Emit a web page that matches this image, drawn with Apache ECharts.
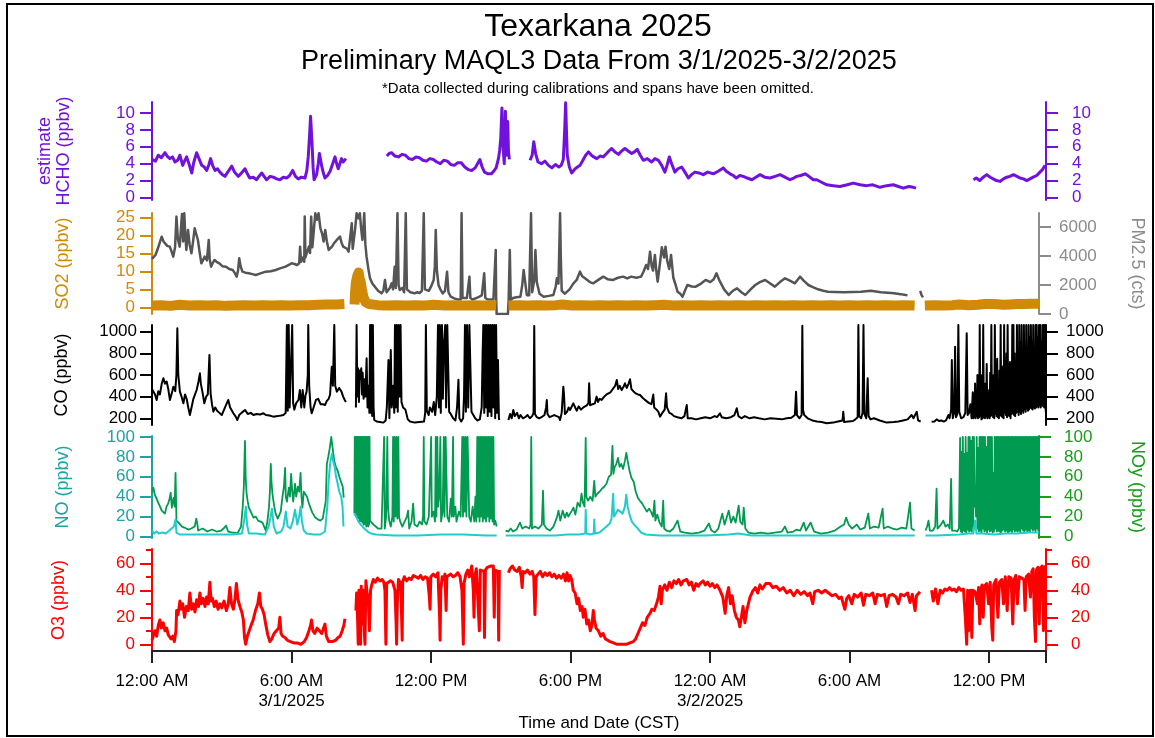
<!DOCTYPE html>
<html><head><meta charset="utf-8">
<script src="https://cdn.jsdelivr.net/npm/echarts@6/dist/echarts.min.js"></script>
<style>html,body{margin:0;padding:0;background:#fff}#c{width:1155px;height:738px}</style>
</head><body><div id="c"></div>
<script>
// ---------- tick labels ----------
const xTickHours = [0, 6, 12, 18, 24, 30, 36];
const xTickLabels = ['12:00 AM', '6:00 AM\n3/1/2025', '12:00 PM', '6:00 PM', '12:00 AM\n3/2/2025', '6:00 AM', '12:00 PM'];
const hchoTicks = [0, 2, 4, 6, 8, 10];
const so2Ticks = [0, 5, 10, 15, 20, 25];
const pmTicks = [0, 2000, 4000, 6000];
const coTicks = [200, 400, 600, 800, 1000];
const noTicks = [0, 20, 40, 60, 80, 100];
const o3Ticks = [0, 20, 40, 60];
const o3MinorTicks = [10, 30, 50, 70];

// ---------- data: [hours since 3/1/2025 00:00 CST, value] ----------
const hcho = [[0.0,4.5],[0.06,4.6],[0.15,4.3],[0.27,5.0],[0.4,4.7],[0.56,5.3],[0.65,4.9],[0.77,4.6],[0.88,4.8],[0.99,4.2],[1.1,4.4],[1.2,5.0],[1.32,3.8],[1.4,4.3],[1.49,4.8],[1.6,3.9],[1.71,2.9],[1.8,4.2],[1.92,5.3],[2.02,4.6],[2.14,3.8],[2.25,3.6],[2.35,3.2],[2.45,3.9],[2.52,4.6],[2.62,3.7],[2.71,3.2],[2.82,3.4],[2.92,3.0],[3.03,2.7],[3.14,2.5],[3.28,3.1],[3.43,3.7],[3.55,3.0],[3.71,2.5],[3.85,2.9],[4.0,3.4],[4.1,2.8],[4.2,2.3],[4.35,2.4],[4.5,2.1],[4.6,2.5],[4.72,2.9],[4.82,2.5],[4.93,2.1],[5.08,2.5],[5.22,2.4],[5.36,2.2],[5.5,2.1],[5.65,2.4],[5.79,2.3],[5.92,2.6],[6.05,3.2],[6.17,2.5],[6.29,2.2],[6.43,2.4],[6.58,2.3],[6.66,3.2],[6.72,4.8],[6.78,7.5],[6.82,9.6],[6.86,7.6],[6.89,6.0],[6.93,3.5],[6.97,2.1],[7.08,2.7],[7.15,4.0],[7.2,5.2],[7.26,4.3],[7.3,3.7],[7.38,2.8],[7.44,2.3],[7.55,2.6],[7.66,3.1],[7.76,3.9],[7.87,4.8],[7.95,3.9],[8.01,3.4],[8.08,4.0],[8.15,4.6],[8.22,4.2],[8.29,4.4],[8.34,4.6],
[8.6,null],
[10.1,4.9],[10.2,5.2],[10.3,5.3],[10.45,4.9],[10.6,4.8],[10.75,5.1],[10.9,5.0],[11.05,4.6],[11.2,4.5],[11.35,4.8],[11.5,4.7],[11.65,4.4],[11.8,4.3],[11.95,4.6],[12.1,4.5],[12.25,4.2],[12.4,4.0],[12.55,4.4],[12.7,4.3],[12.85,3.9],[13.0,3.8],[13.15,4.1],[13.3,4.1],[13.45,3.6],[13.6,3.3],[13.75,3.2],[13.9,3.5],[14.0,4.0],[14.1,4.5],[14.2,3.6],[14.3,3.0],[14.45,2.8],[14.6,2.8],[14.72,3.2],[14.8,3.5],[14.9,4.6],[14.95,5.5],[15.0,7.0],[15.05,10.6],[15.08,8.0],[15.1,6.0],[15.15,4.0],[15.18,6.5],[15.2,10.2],[15.23,7.0],[15.25,5.0],[15.3,9.0],[15.33,5.5],[15.37,4.5],
[15.8,null],
[16.26,4.4],[16.35,5.0],[16.42,6.6],[16.5,5.2],[16.6,4.2],[16.75,4.0],[16.9,4.3],[17.05,3.8],[17.2,3.5],[17.35,3.9],[17.5,3.6],[17.6,3.8],[17.69,4.5],[17.75,8.0],[17.79,11.2],[17.83,7.5],[17.86,5.0],[17.95,3.6],[18.05,2.9],[18.2,3.4],[18.3,3.6],[18.41,3.8],[18.55,4.5],[18.65,5.0],[18.77,5.4],[18.9,5.0],[19.0,4.8],[19.13,4.6],[19.27,4.9],[19.41,4.8],[19.55,5.2],[19.65,5.5],[19.77,5.8],[19.9,5.4],[20.06,5.1],[20.2,5.5],[20.34,5.8],[20.48,5.5],[20.63,5.2],[20.75,5.4],[20.87,5.7],[21.0,5.0],[21.13,4.4],[21.3,4.6],[21.49,4.2],[21.63,4.6],[21.78,4.4],[21.92,3.8],[22.06,3.0],[22.15,3.8],[22.25,4.8],[22.35,4.0],[22.49,3.0],[22.62,3.4],[22.78,3.6],[22.92,3.0],[23.07,2.3],[23.2,2.7],[23.35,3.0],[23.52,2.9],[23.71,2.7],[23.9,3.0],[24.14,2.8],[24.35,3.1],[24.57,3.5],[24.7,3.1],[24.86,2.8],[25.0,2.6],[25.13,2.3],[25.28,2.6],[25.43,2.5],[25.6,2.3],[25.8,2.1],[25.97,2.4],[26.15,2.7],[26.35,2.4],[26.58,2.3],[26.8,2.5],[27.01,2.7],[27.22,2.4],[27.44,2.1],[27.6,2.3],[27.73,2.5],[27.9,2.6],[28.09,2.8],[28.25,2.5],[28.44,2.1],[28.59,2.1],[28.8,1.8],[29.02,1.5],[29.3,1.4],[29.59,1.3],[29.9,1.5],[30.16,1.7],[30.45,1.5],[30.74,1.4],[31.0,1.5],[31.31,1.2],[31.6,1.4],[31.88,1.5],[32.1,1.3],[32.31,1.1],[32.55,1.3],[32.74,1.2],[32.86,1.1],
[34.0,null],
[35.33,2.1],[35.45,2.3],[35.6,2.0],[35.75,2.4],[35.9,2.7],[36.05,2.4],[36.18,2.2],[36.32,2.0],[36.47,1.9],[36.62,2.2],[36.76,2.4],[36.9,2.5],[37.05,2.7],[37.2,2.5],[37.33,2.3],[37.48,2.2],[37.62,2.0],[37.76,2.2],[37.9,2.4],[38.05,2.6],[38.19,3.0],[38.3,3.3],[38.41,3.8]];

const pm25 = [[0.0,3800],[0.06,3726],[0.15,4071],[0.25,4500],[0.35,5000],[0.42,5334],[0.5,5000],[0.56,4876],[0.66,4700],[0.77,4646],[0.85,4300],[0.92,3956],[1.0,4600],[1.06,6716],[1.12,5200],[1.2,4646],[1.26,6000],[1.3,6900],[1.35,5000],[1.4,6950],[1.44,5500],[1.49,4416],[1.56,5796],[1.63,4800],[1.71,4186],[1.78,5000],[1.85,5910],[1.92,5500],[1.99,5106],[2.07,4200],[2.14,3497],[2.21,3700],[2.28,3956],[2.38,3700],[2.46,5106],[2.5,3800],[2.56,3266],[2.63,3500],[2.71,3726],[2.8,3600],[2.92,3497],[3.05,3300],[3.21,3266],[3.35,3100],[3.5,3036],[3.6,2800],[3.67,2576],[3.73,3000],[3.78,3841],[3.84,3300],[3.92,2921],[4.05,2850],[4.2,2806],[4.35,2750],[4.5,2691],[4.7,2800],[4.93,2921],[5.15,2950],[5.36,3036],[5.55,3150],[5.79,3266],[5.95,3400],[6.05,3497],[6.18,3450],[6.29,3381],[6.38,3500],[6.42,4646],[6.46,3600],[6.52,3600],[6.58,3956],[6.6,3600],[6.62,6716],[6.65,3900],[6.72,4000],[6.8,4646],[6.85,4200],[6.9,6716],[6.95,4600],[7.02,4600],[7.08,6950],[7.15,6500],[7.22,6950],[7.3,5900],[7.37,5566],[7.44,5000],[7.51,5796],[7.58,5000],[7.66,4416],[7.73,4500],[7.8,4646],[7.9,4900],[8.01,5106],[8.09,5221],[8.15,5336],[8.22,4900],[8.29,4646],[8.37,4761],[8.45,4500],[8.52,4300],[8.59,4186],[8.66,6256],[8.7,4500],[8.73,4416],[8.8,5800],[8.87,6950],[8.94,6600],[9.01,6950],[9.06,6000],[9.12,5106],[9.16,5800],[9.2,6950],[9.25,4800],[9.3,3956],[9.38,3100],[9.45,2461],[9.55,2100],[9.66,1886],[9.8,1600],[9.95,1426],[10.03,1600],[10.1,2346],[10.17,1500],[10.24,1426],[10.31,1800],[10.39,2116],[10.45,1700],[10.52,3266],[10.57,1800],[10.64,6950],[10.69,2000],[10.74,1656],[10.85,1800],[10.93,1500],[11.0,6950],[11.05,1700],[11.1,1600],[11.2,1500],[11.38,1426],[11.5,1500],[11.6,1450],[11.7,1600],[11.78,6950],[11.83,1700],[11.9,1650],[12.0,1600],[12.1,1900],[12.21,2346],[12.26,3266],[12.3,5796],[12.35,3000],[12.42,2000],[12.5,1700],[12.6,1426],[12.7,1600],[12.79,2921],[12.85,1500],[12.95,1200],[13.1,1081],[13.25,1000],[13.38,1000],[13.42,6950],[13.46,1100],[13.53,966],[13.65,1100],[13.76,2576],[13.8,1100],[13.9,1000],[14.05,1100],[14.2,1200],[14.3,1300],[14.4,2806],[14.45,1100],[14.55,1000],[14.68,1000],[14.8,1000],[14.88,966],[14.9,4416],[14.92,1000],[14.94,0],[15.43,0],[15.46,1000],[15.51,4416],[15.55,966],[15.65,1100],[15.8,1150],[15.97,1196],[16.05,2000],[16.11,3036],[16.17,2900],[16.25,1300],[16.35,1300],[16.43,6950],[16.48,1500],[16.57,2346],[16.62,4416],[16.68,2200],[16.8,1400],[16.98,1196],[17.2,1250],[17.4,1311],[17.5,1900],[17.55,2461],[17.62,2100],[17.69,6950],[17.72,4000],[17.76,1600],[17.8,1500],[17.9,1400],[17.98,1311],[18.1,1700],[18.27,2116],[18.41,2346],[18.55,2921],[18.65,2600],[18.77,2461],[18.84,2461],[18.98,2200],[19.13,2116],[19.3,2300],[19.56,2576],[19.75,2400],[19.99,2346],[20.2,2500],[20.42,2576],[20.6,2450],[20.77,2576],[21.0,2500],[21.2,2576],[21.3,2900],[21.42,3381],[21.5,3100],[21.59,4301],[21.66,3300],[21.72,3000],[21.8,4071],[21.86,3000],[21.92,2231],[22.02,3500],[22.1,4600],[22.14,4646],[22.2,3900],[22.26,4646],[22.33,3700],[22.42,3100],[22.5,4071],[22.6,2500],[22.7,2000],[22.78,1541],[22.9,1400],[23.0,1196],[23.1,1600],[23.21,2000],[23.4,1900],[23.57,1886],[23.8,2100],[24.0,2346],[24.2,2200],[24.35,2400],[24.47,2806],[24.6,2300],[24.8,1700],[25.0,1311],[25.18,1600],[25.36,1771],[25.55,1500],[25.72,1311],[25.95,1700],[26.15,2000],[26.35,2200],[26.58,2346],[26.8,2100],[27.0,1886],[27.22,2200],[27.44,2461],[27.65,2300],[27.87,2116],[28.09,2576],[28.25,2300],[28.45,2000],[28.65,1850],[28.87,1702],[29.1,1600],[29.3,1541],[29.6,1520],[30.0,1495],[30.35,1520],[30.74,1541],[31.16,1610],[31.6,1495],[31.9,1460],[32.17,1426],[32.45,1370],[32.67,1311],[32.75,1300],
[33.0,null],
[33.3,1600],[33.36,1300],[33.42,1150]];

const so2 = [[0,0.5],[0.4,0.6],[0.8,0.4],[1.2,0.7],[1.6,0.5],[2.0,0.6],[2.4,0.5],[2.8,0.6],[3.2,0.4],[3.6,0.5],[4.0,0.6],[4.4,0.5],[4.8,0.6],[5.2,0.5],[5.6,0.6],[6.0,0.5],[6.4,0.6],[6.8,0.6],[7.2,0.7],[7.6,0.8],[8.0,0.8],[8.34,0.9],
[8.5,null],
[8.78,0.8],[8.8,4.0],[8.84,7.0],[8.9,8.8],[8.96,9.7],[9.0,8.0],[9.05,7.0],[9.1,5.0],[9.16,3.0],[9.25,1.5],[9.4,0.9],[9.8,0.6],[10.2,0.5],[10.6,0.6],[11.0,0.5],[11.4,0.6],[11.8,0.5],[12.2,0.7],[12.7,0.5],[13.1,0.6],[13.5,0.5],[13.9,0.6],[14.3,0.5],[14.7,0.6],[14.92,0.5],
[15.2,null],
[15.45,0.5],[15.9,0.6],[16.3,0.5],[16.7,0.6],[17.1,0.5],[17.5,0.6],[17.8,0.8],[18.2,0.5],[18.6,0.6],[19.0,0.5],[19.4,0.6],[19.8,0.5],[20.2,0.6],[20.6,0.5],[21.0,0.6],[21.4,0.5],[21.8,0.6],[22.2,0.7],[22.6,0.5],[23.0,0.6],[23.4,0.5],[23.8,0.6],[24.2,0.5],[24.6,0.6],[25.0,0.5],[25.4,0.6],[25.8,0.5],[26.2,0.6],[26.6,0.5],[27.0,0.6],[27.4,0.5],[27.8,0.6],[28.2,0.5],[28.6,0.6],[29.0,0.5],[29.4,0.6],[29.8,0.5],[30.2,0.6],[30.6,0.5],[31.0,0.6],[31.4,0.5],[31.8,0.6],[32.2,0.5],[32.6,0.6],[33.06,0.5],
[33.3,null],
[33.5,0.5],[33.9,0.6],[34.3,0.5],[34.7,0.6],[35.0,0.8],[35.4,0.6],[35.8,0.7],[36.1,0.9],[36.5,0.9],[36.9,0.7],[37.2,0.8],[37.5,0.9],[37.8,0.9],[38.1,1.0],[38.45,1.0]];

const co = [[0,470],[0.06,477],[0.13,420],[0.2,369],[0.27,450],[0.34,420],[0.42,520],[0.49,569],[0.56,520],[0.63,540],[0.7,470],[0.77,369],[0.85,430],[0.92,492],[1.0,450],[1.05,600],[1.09,1031],[1.13,600],[1.2,446],[1.27,400],[1.35,338],[1.42,420],[1.49,380],[1.56,300],[1.63,230],[1.7,300],[1.78,380],[1.85,420],[1.92,461],[2.0,540],[2.06,615],[2.1,520],[2.18,430],[2.25,338],[2.33,400],[2.4,420],[2.47,785],[2.52,430],[2.58,330],[2.64,261],[2.72,300],[2.8,270],[2.9,250],[3.0,230],[3.1,280],[3.2,330],[3.28,369],[3.36,300],[3.5,246],[3.6,215],[3.67,184],[3.75,230],[3.85,250],[4.0,277],[4.12,240],[4.25,250],[4.36,230],[4.5,240],[4.65,235],[4.79,246],[4.9,230],[5.05,225],[5.22,215],[5.4,220],[5.55,225],[5.65,230],[5.75,250],[5.8,1060],[5.84,270],[5.88,1060],[5.92,300],[5.98,290],[6.03,1060],[6.07,340],[6.12,280],[6.2,340],[6.3,369],[6.36,461],[6.42,300],[6.48,461],[6.55,300],[6.6,410],[6.65,446],[6.7,600],[6.72,1060],[6.76,500],[6.82,300],[6.87,246],[6.95,300],[7.05,369],[7.15,380],[7.25,330],[7.35,330],[7.44,323],[7.52,360],[7.6,380],[7.66,420],[7.73,676],[7.78,500],[7.84,1060],[7.88,500],[7.95,446],[8.05,480],[8.15,446],[8.22,400],[8.29,369],[8.34,350],
[8.55,null],
[8.77,300],[8.8,1060],[8.83,400],[8.86,661],[8.9,350],[8.93,640],[8.96,560],[9.0,661],[9.03,420],[9.06,620],[9.1,380],[9.14,560],[9.18,400],[9.23,754],[9.27,300],[9.31,500],[9.35,250],[9.38,1060],[9.41,250],[9.44,1060],[9.47,220],[9.5,1060],[9.53,300],[9.56,184],[9.66,170],[9.8,165],[9.95,160],[10.05,180],[10.1,300],[10.17,738],[10.21,200],[10.27,830],[10.31,300],[10.37,500],[10.42,250],[10.45,1060],[10.49,300],[10.53,1060],[10.57,260],[10.61,1060],[10.65,400],[10.69,1060],[10.73,350],[10.8,300],[10.9,280],[11.0,190],[11.1,170],[11.3,160],[11.5,165],[11.7,170],[11.75,250],[11.78,1060],[11.82,270],[11.9,230],[11.95,300],[12.05,260],[12.12,350],[12.18,230],[12.25,400],[12.3,1060],[12.34,300],[12.38,1060],[12.42,250],[12.47,1060],[12.51,380],[12.56,900],[12.61,1060],[12.65,300],[12.7,1060],[12.75,1060],[12.78,260],[12.85,240],[12.95,200],[13.05,180],[13.12,300],[13.18,555],[13.22,200],[13.3,170],[13.38,200],[13.42,400],[13.46,1060],[13.5,260],[13.55,1060],[13.6,300],[13.65,1060],[13.7,1060],[13.74,260],[13.82,230],[13.9,200],[14.0,180],[14.1,190],[14.18,300],[14.22,800],[14.25,1060],[14.29,250],[14.33,1060],[14.37,300],[14.4,1060],[14.44,220],[14.48,1060],[14.52,260],[14.56,1060],[14.6,220],[14.64,1060],[14.68,300],[14.72,1060],[14.76,200],[14.8,1060],[14.84,250],[14.88,738],[14.92,200],[14.94,184],
[15.1,null],
[15.33,184],[15.4,240],[15.47,200],[15.54,277],[15.6,220],[15.7,250],[15.78,200],[15.85,230],[15.95,200],[16.05,210],[16.15,230],[16.25,200],[16.35,220],[16.41,250],[16.44,1052],[16.47,240],[16.55,210],[16.65,200],[16.75,210],[16.88,230],[16.95,300],[16.98,369],[17.01,240],[17.1,210],[17.2,220],[17.3,230],[17.4,220],[17.5,210],[17.55,184],[17.62,250],[17.69,492],[17.72,420],[17.76,240],[17.85,260],[17.92,300],[17.98,277],[18.05,290],[18.12,338],[18.2,300],[18.27,270],[18.35,310],[18.45,280],[18.55,300],[18.62,292],[18.7,320],[18.77,340],[18.8,523],[18.84,320],[18.95,330],[19.05,338],[19.12,400],[19.18,350],[19.25,380],[19.34,369],[19.45,400],[19.55,420],[19.63,431],[19.72,440],[19.84,477],[19.92,500],[19.99,554],[20.05,470],[20.12,500],[20.2,460],[20.28,490],[20.34,523],[20.42,480],[20.5,520],[20.56,560],[20.62,470],[20.7,450],[20.8,430],[20.9,420],[20.99,415],[21.1,390],[21.2,370],[21.28,354],[21.38,340],[21.48,330],[21.56,420],[21.6,300],[21.7,280],[21.78,260],[21.85,215],[21.95,250],[22.05,280],[22.11,430],[22.15,300],[22.25,250],[22.35,240],[22.45,220],[22.6,210],[22.78,200],[22.9,220],[23.0,323],[23.04,200],[23.2,200],[23.4,190],[23.6,200],[23.8,210],[24.0,200],[24.2,220],[24.3,210],[24.43,246],[24.5,210],[24.7,200],[24.9,210],[25.05,230],[25.15,292],[25.22,220],[25.35,200],[25.5,220],[25.7,200],[25.9,210],[26.1,200],[26.35,190],[26.6,200],[26.85,195],[27.1,190],[27.3,200],[27.5,205],[27.65,230],[27.7,446],[27.74,230],[27.85,200],[27.94,230],[27.97,1055],[28.0,280],[28.05,230],[28.2,200],[28.4,180],[28.6,170],[28.8,165],[29.02,154],[29.3,160],[29.5,170],[29.7,180],[29.73,261],[29.77,165],[29.95,170],[30.15,175],[30.25,190],[30.35,210],[30.38,1060],[30.42,220],[30.5,200],[30.56,250],[30.6,1060],[30.64,240],[30.72,200],[30.78,569],[30.82,220],[30.9,190],[31.05,200],[31.3,180],[31.6,160],[31.9,165],[32.1,170],[32.3,180],[32.5,190],[32.67,230],[32.75,200],[32.89,261],[32.95,180],[33.06,170],
[33.3,null],
[33.53,169],[33.65,170],[33.75,190],[33.85,175],[33.95,180],[34.05,170],[34.15,180],[34.25,230],[34.3,200],[34.37,280],[34.4,738],[34.44,200],[34.5,250],[34.54,861],[34.58,210],[34.64,240],[34.68,1060],[34.72,260],[34.8,200],[34.9,210],[34.98,250],[35.04,985],[35.08,230],[35.14,250],[35.2,330],[35.25,200],
[35.3,440],[35.325,200],[35.35,420],[35.375,210],[35.4,520],[35.425,200],[35.45,380],[35.475,220],[35.5,600],[35.525,200],[35.55,450],[35.575,210],[35.6,1060],[35.625,220],[35.65,480],[35.675,190],[35.7,600],[35.725,200],[35.75,1060],[35.775,210],[35.8,430],[35.825,200],[35.85,520],[35.875,220],[35.9,700],[35.925,200],[35.95,460],[35.975,210],[36.0,420],[36.025,200],[36.05,620],[36.075,220],[36.1,1060],[36.125,230],[36.15,500],[36.175,210],[36.2,600],[36.225,200],[36.25,1060],[36.275,240],[36.3,540],[36.325,220],[36.35,750],[36.375,210],[36.4,520],[36.425,200],[36.45,640],[36.475,230],[36.5,1060],[36.525,220],[36.55,680],[36.575,210],[36.6,560],[36.625,200],[36.65,1060],[36.675,250],[36.7,560],[36.725,230],[36.75,800],[36.775,210],[36.8,1060],[36.825,230],[36.85,600],[36.875,220],[36.9,720],[36.925,200],[36.95,620],[36.975,240],[37.0,1060],[37.025,250],[37.05,1060],[37.075,230],[37.1,800],[37.125,220],[37.15,640],[37.175,250],[37.2,1060],[37.225,260],[37.25,700],[37.275,230],[37.3,1060],[37.325,260],[37.35,900],[37.375,240],[37.4,1060],[37.425,270],[37.45,760],[37.475,250],[37.5,1060],[37.525,280],[37.55,850],[37.575,260],[37.6,1060],[37.625,290],[37.65,700],[37.675,270],[37.7,1060],[37.725,280],[37.75,950],[37.775,300],[37.8,1060],[37.825,290],[37.85,900],[37.875,280],[37.9,1060],[37.925,300],[37.95,800],[37.975,290],[38.0,1060],[38.025,300],[38.05,1060],[38.075,310],[38.1,950],[38.125,300],[38.15,1060],[38.175,320],[38.2,1060],[38.225,300],[38.25,900],[38.275,320],[38.3,1060],[38.325,310],[38.35,1060],[38.375,300],[38.4,1060],[38.425,320],[38.45,240]];

const noy = [[0,45],[0.06,49],[0.12,42],[0.18,39],[0.27,34],[0.35,30],[0.42,26],[0.5,28],[0.56,23],[0.63,30],[0.7,33],[0.76,38],[0.81,44],[0.86,29],[0.9,35],[0.94,39],[0.98,30],[1.02,64],[1.04,40],[1.06,16],[1.15,14],[1.2,13],[1.3,10],[1.4,9],[1.49,8],[1.6,7],[1.7,8],[1.78,6],[1.85,10],[1.92,18],[1.97,12],[2.0,6],[2.2,8],[2.4,5],[2.6,7],[2.8,5],[3.0,6],[3.1,8],[3.21,11],[3.3,5],[3.5,4],[3.6,4],[3.7,3],[3.78,3],[3.86,10],[3.93,29],[3.98,50],[4.03,96],[4.06,60],[4.1,43],[4.15,35],[4.2,29],[4.3,24],[4.4,19],[4.5,20],[4.6,16],[4.7,15],[4.79,14],[4.86,10],[4.93,6],[5.0,15],[5.07,29],[5.11,45],[5.15,73],[5.18,55],[5.22,43],[5.3,30],[5.36,23],[5.45,18],[5.5,16],[5.58,25],[5.65,39],[5.72,50],[5.77,69],[5.8,40],[5.85,35],[5.93,49],[5.98,40],[6.03,63],[6.08,45],[6.12,35],[6.2,53],[6.25,40],[6.32,50],[6.38,45],[6.44,64],[6.48,40],[6.52,29],[6.58,45],[6.65,43],[6.72,40],[6.78,35],[6.85,30],[6.95,24],[7.08,19],[7.2,17],[7.3,16],[7.4,18],[7.48,20],[7.53,35],[7.58,73],[7.64,80],[7.7,88],[7.73,93],[7.77,100],[7.8,99],[7.85,85],[7.9,76],[7.97,70],[8.05,66],[8.12,60],[8.2,59],[8.27,50],[8.31,39],
[8.55,null],
[8.77,23],[8.79,100],[8.81,25],[8.83,100],[8.85,20],[8.87,100],[8.89,22],[8.91,100],[8.93,18],[8.95,100],[8.97,20],[8.99,100],[9.01,15],[9.03,100],[9.05,18],[9.07,100],[9.09,15],[9.11,100],[9.13,14],[9.15,100],[9.17,12],[9.19,100],[9.21,14],[9.23,100],[9.25,12],[9.27,100],[9.29,10],[9.31,100],[9.33,12],[9.35,100],[9.37,10],[9.39,100],[9.41,12],[9.43,100],[9.45,16],[9.52,16],[9.6,12],[9.7,10],[9.8,8],[9.95,8],[10.02,10],[10.06,100],[10.09,8],[10.15,20],[10.2,100],[10.23,30],[10.28,16],[10.35,10],[10.42,20],[10.45,100],[10.48,15],[10.52,100],[10.56,20],[10.6,100],[10.64,18],[10.68,100],[10.71,20],[10.76,15],[10.85,10],[10.95,15],[11.05,20],[11.1,26],[11.15,8],[11.25,15],[11.32,33],[11.38,12],[11.5,10],[11.6,15],[11.7,12],[11.75,20],[11.78,100],[11.81,15],[11.9,12],[12.0,20],[12.08,18],[12.1,100],[12.13,20],[12.2,25],[12.27,15],[12.3,100],[12.33,20],[12.37,100],[12.4,30],[12.45,40],[12.5,100],[12.53,15],[12.6,25],[12.65,100],[12.68,20],[12.73,100],[12.77,100],[12.8,20],[12.88,15],[12.95,38],[13.0,20],[13.05,100],[13.08,20],[13.15,30],[13.2,15],[13.3,25],[13.38,20],[13.45,100],[13.48,20],[13.52,100],[13.55,25],[13.6,100],[13.63,20],[13.68,100],[13.72,100],[13.75,20],[13.82,15],[13.9,30],[13.97,15],[14.02,40],[14.06,15],[14.1,100],[14.13,20],[14.17,100],[14.2,15],[14.24,100],[14.27,20],[14.31,100],[14.34,15],[14.38,100],[14.41,18],[14.45,100],[14.48,15],[14.52,100],[14.55,20],[14.59,100],[14.62,15],[14.66,100],[14.69,18],[14.73,100],[14.76,15],[14.8,100],[14.83,12],[14.88,16],[14.94,10],
[15.1,null],
[15.33,6],[15.45,5],[15.55,8],[15.65,5],[15.8,7],[15.95,14],[16.05,8],[16.2,10],[16.35,8],[16.41,12],[16.44,100],[16.47,8],[16.6,10],[16.75,8],[16.9,12],[16.95,46],[16.99,12],[17.1,8],[17.25,6],[17.4,10],[17.55,19],[17.62,26],[17.7,16],[17.8,26],[17.9,19],[17.98,24],[18.05,20],[18.12,23],[18.2,26],[18.27,29],[18.35,22],[18.45,34],[18.55,30],[18.62,43],[18.68,34],[18.75,30],[18.8,99],[18.83,40],[18.9,36],[19.0,40],[19.1,36],[19.17,56],[19.22,40],[19.3,43],[19.4,45],[19.5,48],[19.6,50],[19.7,53],[19.8,60],[19.9,62],[19.96,91],[20.0,63],[20.06,70],[20.13,73],[20.2,79],[20.27,70],[20.34,73],[20.42,68],[20.5,76],[20.56,84],[20.62,76],[20.7,66],[20.78,59],[20.88,55],[20.97,45],[21.06,39],[21.15,36],[21.25,33],[21.35,29],[21.45,25],[21.55,28],[21.65,24],[21.72,20],[21.78,36],[21.82,16],[21.9,22],[22.0,14],[22.1,10],[22.16,36],[22.2,8],[22.3,6],[22.45,5],[22.6,8],[22.78,16],[22.9,5],[23.1,4],[23.4,3],[23.7,4],[23.95,6],[24.14,13],[24.25,6],[24.4,4],[24.55,8],[24.72,23],[24.82,12],[24.9,18],[25.0,26],[25.1,14],[25.2,20],[25.3,14],[25.43,31],[25.5,15],[25.6,12],[25.65,29],[25.72,8],[25.85,4],[26.1,3],[26.4,4],[26.7,3],[27.0,4],[27.3,5],[27.44,10],[27.55,4],[27.8,5],[27.95,7],[28.1,6],[28.25,14],[28.35,6],[28.55,14],[28.7,5],[29.0,3],[29.3,4],[29.6,6],[29.85,10],[30.0,12],[30.09,19],[30.2,12],[30.35,8],[30.55,12],[30.7,7],[30.9,9],[31.05,23],[31.12,8],[31.3,10],[31.5,9],[31.67,28],[31.72,8],[31.9,10],[32.1,8],[32.3,7],[32.5,9],[32.7,8],[32.86,34],[32.92,8],[33.06,6],
[33.3,null],
[33.53,6],[33.6,10],[33.66,16],[33.72,6],[33.85,6],[33.95,10],[34.01,48],[34.05,8],[34.2,12],[34.3,16],[34.4,10],[34.5,12],[34.58,8],[34.64,58],[34.68,6],[34.8,6],[34.9,5],[34.98,8],
[35.03,99],[35.06,5],[35.09,85],[35.12,4],[35.15,100],[35.18,6],[35.21,83],[35.24,5],[35.27,100],[35.3,4],[35.33,84],[35.36,7],[35.39,100],[35.42,5],[35.45,100],[35.48,6],[35.51,96],[35.54,5],[35.57,100],[35.6,10],[35.63,100],[35.66,30],[35.69,50],[35.72,20],[35.75,100],[35.78,8],[35.81,89],[35.84,5],[35.87,100],[35.9,6],[35.93,100],[35.96,4],[35.99,100],[36.02,8],[36.05,100],[36.08,5],[36.11,100],[36.14,6],[36.17,90],[36.2,4],[36.23,100],[36.26,7],[36.29,100],[36.32,5],[36.35,100],[36.38,6],[36.41,100],[36.44,4],[36.47,64],[36.5,5],[36.53,100],[36.56,8],[36.59,100],[36.62,5],[36.65,100],[36.68,6],[36.71,100],[36.74,5],[36.77,100],[36.8,4],[36.83,100],[36.86,6],[36.89,100],[36.92,7],[36.95,100],[36.98,5],[37.01,100],[37.04,6],[37.07,100],[37.1,4],[37.13,100],[37.16,5],[37.19,100],[37.22,6],[37.25,100],[37.28,4],[37.31,100],[37.34,7],[37.37,100],[37.4,5],[37.43,100],[37.46,6],[37.49,100],[37.52,5],[37.55,100],[37.58,6],[37.61,100],[37.64,4],[37.67,100],[37.7,8],[37.73,100],[37.76,6],[37.79,100],[37.82,5],[37.85,100],[37.88,7],[37.91,100],[37.94,5],[37.97,100],[38.0,6],[38.03,100],[38.06,5],[38.09,100],[38.12,8],[38.15,100],[38.18,6],[38.21,100],[38.24,7],[38.27,100],[38.3,5],[38.33,100],[38.36,8],[38.39,100],[38.42,6],[38.45,100]];

const no = [[0,6],[0.1,3],[0.2,5],[0.3,3],[0.45,4],[0.6,3],[0.75,6],[0.85,8],[0.95,10],[1.02,17],[1.06,4],[1.2,2],[1.5,2],[2,2],[2.5,2],[3,2],[3.5,2],[3.9,3],[4.0,17],[4.07,30],[4.12,12],[4.2,3],[4.5,3],[4.9,2],[5.05,10],[5.12,17],[5.2,28],[5.28,10],[5.4,3],[5.6,5],[5.7,10],[5.8,25],[5.88,10],[6.0,8],[6.1,15],[6.2,27],[6.3,12],[6.38,20],[6.44,30],[6.5,15],[6.58,6],[6.7,3],[7.0,2],[7.3,2],[7.5,5],[7.6,30],[7.66,57],[7.73,75],[7.8,83],[7.86,75],[7.92,70],[7.98,60],[8.05,53],[8.12,45],[8.2,40],[8.26,30],[8.3,10],
[8.55,null],
[8.77,23],[8.85,20],[8.95,15],[9.05,12],[9.2,8],[9.35,5],[9.5,3],[9.7,2],[10.5,1],[11.5,1],[12.5,2],[13.5,2],[14.5,1],[14.94,1],
[15.1,null],
[15.33,1],[16,1],[17,1],[17.5,1],[18,2],[18.5,2],[18.78,3],[18.8,27],[18.83,3],[19.0,2],[19.15,3],[19.17,17],[19.2,3],[19.4,4],[19.55,7],[19.7,10],[19.84,13],[19.92,18],[19.99,43],[20.03,20],[20.1,22],[20.2,27],[20.3,25],[20.4,23],[20.5,30],[20.56,42],[20.62,30],[20.7,22],[20.8,15],[20.9,12],[21.06,8],[21.2,4],[21.4,2],[22,1],[23,1],[24,1],[25,2],[25.4,3],[26,1],[28,1],[30,1],[32,1],[33.06,1],
[33.3,null],
[33.53,1],[34,1],[35,2],[35.4,3],[35.6,3],[35.68,16],[35.74,3],[36,3],[36.5,2],[37,3],[37.5,3],[38,4],[38.45,4]];

const o3 = [[0,3],[0.06,3],[0.12,10],[0.2,6],[0.27,14],[0.34,18],[0.4,12],[0.48,16],[0.56,10],[0.63,12],[0.7,7],[0.77,8],[0.82,4],[0.9,6],[0.96,2],[1.03,10],[1.06,25],[1.12,22],[1.2,32],[1.26,26],[1.32,30],[1.4,20],[1.48,28],[1.56,25],[1.63,38],[1.7,26],[1.78,30],[1.85,24],[1.92,33],[2.0,28],[2.06,38],[2.12,30],[2.2,34],[2.28,28],[2.35,35],[2.42,30],[2.49,46],[2.54,32],[2.6,34],[2.68,28],[2.76,32],[2.84,26],[2.92,30],[3.0,27],[3.1,32],[3.2,25],[3.28,30],[3.35,42],[3.42,30],[3.5,26],[3.57,34],[3.63,45],[3.7,33],[3.78,28],[3.86,24],[3.93,18],[3.98,5],[4.03,0],[4.1,6],[4.18,10],[4.26,14],[4.35,18],[4.45,25],[4.55,30],[4.62,38],[4.68,28],[4.75,26],[4.82,22],[4.9,14],[4.98,7],[5.07,2],[5.15,4],[5.25,8],[5.35,10],[5.45,12],[5.5,20],[5.55,8],[5.62,6],[5.72,5],[5.82,3],[5.95,2],[6.1,1],[6.25,1],[6.4,0],[6.55,2],[6.65,5],[6.75,10],[6.82,14],[6.86,18],[6.92,10],[7.0,8],[7.1,12],[7.2,10],[7.3,8],[7.38,12],[7.44,15],[7.5,6],[7.6,2],[7.75,2],[7.9,3],[8.0,5],[8.09,6],[8.18,10],[8.25,14],[8.3,19],
[8.55,null],
[8.77,25],[8.8,38],[8.84,20],[8.87,0],[8.9,40],[8.94,20],[8.97,0],[9.0,43],[9.05,15],[9.1,40],[9.13,10],[9.16,0],[9.2,47],[9.25,38],[9.3,35],[9.35,10],[9.4,40],[9.45,44],[9.52,48],[9.6,46],[9.7,49],[9.8,47],[9.9,48],[9.97,46],[10.02,40],[10.06,0],[10.09,45],[10.15,44],[10.25,47],[10.35,46],[10.45,40],[10.5,15],[10.52,0],[10.55,30],[10.6,48],[10.7,45],[10.76,3],[10.78,46],[10.85,50],[10.95,47],[11.05,49],[11.15,48],[11.24,51],[11.35,50],[11.45,49],[11.55,51],[11.65,48],[11.75,50],[11.85,49],[11.93,35],[11.96,26],[11.99,50],[12.1,52],[12.2,50],[12.3,53],[12.37,20],[12.39,3],[12.42,40],[12.48,50],[12.55,48],[12.6,52],[12.65,25],[12.68,50],[12.75,51],[12.85,52],[12.95,50],[13.05,51],[13.15,53],[13.25,50],[13.33,40],[13.39,0],[13.42,45],[13.5,52],[13.58,55],[13.65,50],[13.75,58],[13.82,40],[13.85,20],[13.88,50],[13.95,56],[14.02,57],[14.08,10],[14.12,55],[14.2,56],[14.28,54],[14.3,5],[14.34,55],[14.42,57],[14.5,56],[14.58,58],[14.68,58],[14.72,20],[14.75,55],[14.82,56],[14.88,54],[14.91,3],[14.94,55],
[15.1,null],
[15.33,53],[15.4,56],[15.5,58],[15.6,55],[15.7,54],[15.8,57],[15.88,50],[15.92,42],[15.96,54],[16.05,53],[16.15,55],[16.25,52],[16.35,54],[16.42,50],[16.47,22],[16.52,50],[16.6,52],[16.7,54],[16.8,50],[16.9,53],[17.0,51],[17.1,53],[17.2,50],[17.3,52],[17.4,49],[17.5,51],[17.6,49],[17.7,52],[17.78,47],[17.85,53],[17.92,47],[17.98,51],[18.05,48],[18.12,40],[18.2,38],[18.28,30],[18.35,34],[18.42,25],[18.5,28],[18.55,20],[18.62,26],[18.7,15],[18.78,18],[18.85,10],[18.92,14],[18.98,25],[19.03,18],[19.1,12],[19.2,10],[19.3,6],[19.4,8],[19.5,4],[19.6,3],[19.7,2],[19.85,1],[20.0,0],[20.2,0],[20.4,0],[20.55,1],[20.7,2],[20.8,4],[20.9,8],[21.0,12],[21.1,16],[21.2,14],[21.3,20],[21.42,23],[21.5,26],[21.6,25],[21.7,30],[21.78,35],[21.85,43],[21.9,30],[21.95,40],[22.05,44],[22.15,40],[22.25,46],[22.35,42],[22.45,47],[22.55,45],[22.65,48],[22.75,44],[22.85,47],[23.0,48],[23.1,44],[23.2,46],[23.3,40],[23.4,45],[23.5,43],[23.57,45],[23.7,47],[23.8,44],[23.9,46],[24.0,43],[24.1,45],[24.2,42],[24.3,44],[24.43,40],[24.55,35],[24.65,23],[24.72,36],[24.8,42],[24.88,30],[24.95,36],[25.05,25],[25.13,20],[25.22,18],[25.28,13],[25.35,20],[25.42,28],[25.5,16],[25.58,25],[25.65,30],[25.72,35],[25.8,38],[25.86,40],[25.95,42],[26.05,38],[26.15,44],[26.25,41],[26.4,45],[26.58,45],[26.7,42],[26.85,43],[27.0,40],[27.15,42],[27.3,38],[27.45,40],[27.6,36],[27.75,40],[27.9,37],[28.05,39],[28.2,36],[28.3,38],[28.42,30],[28.5,39],[28.65,40],[28.8,38],[28.95,40],[29.1,38],[29.25,36],[29.4,37],[29.55,34],[29.65,35],[29.73,30],[29.8,26],[29.88,34],[29.97,36],[30.1,30],[30.2,37],[30.35,35],[30.5,38],[30.6,29],[30.7,37],[30.85,36],[31.0,38],[31.1,30],[31.2,37],[31.35,36],[31.5,37],[31.6,28],[31.7,36],[31.85,37],[32.0,35],[32.1,30],[32.2,37],[32.35,36],[32.5,38],[32.6,31],[32.7,37],[32.82,25],[32.88,36],[33.03,39],
[33.3,null],
[33.53,40],[33.6,32],[33.7,41],[33.8,30],[33.9,40],[34.0,38],[34.1,41],[34.2,40],[34.3,42],[34.4,40],[34.5,41],[34.6,39],[34.7,42],[34.8,40],[34.9,41],[34.98,20],[35.04,0],[35.08,40],[35.12,10],[35.16,35],[35.2,40],[35.26,5],[35.3,40],[35.4,39],[35.5,30],[35.55,42],[35.6,15],[35.65,40],[35.7,44],[35.75,20],[35.8,43],[35.9,45],[35.98,30],[36.05,46],[36.12,12],[36.16,3],[36.2,44],[36.3,48],[36.38,20],[36.45,46],[36.55,48],[36.62,30],[36.7,50],[36.78,25],[36.85,50],[36.95,49],[37.02,15],[37.08,48],[37.15,51],[37.22,30],[37.3,50],[37.4,49],[37.5,48],[37.55,25],[37.6,50],[37.7,52],[37.78,35],[37.84,54],[37.9,56],[37.95,20],[38.0,2],[38.04,55],[38.1,57],[38.16,15],[38.2,56],[38.28,58],[38.34,10],[38.38,57],[38.45,58]];

// ---------- chart ----------
const FONT = 'Liberation Sans, Arial, sans-serif';
const C = {hcho:'#7012dc', so2:'#d08a08', pmAxis:'#8c8c8c', pmLine:'#555555', co:'#000000', noAxis:'#1ea3a3', noLine:'#22cccc', noyAxis:'#16a016', noyLine:'#009a50', o3:'#ff0000'};
const X_MAX = 38.45;

const grids = [
  {left:152, right:109, top:102, height:98},
  {left:152, right:109, top:213, height:101},
  {left:152, right:109, top:325, height:100},
  {left:152, right:109, top:436, height:102},
  {left:152, right:109, top:549, height:102}
];

function yAx(o) {
  return {
    type:'value', gridIndex:o.grid, position:o.pos, min:o.min, max:o.max,
    name:o.name || '', nameLocation:'middle', nameGap:o.nameGap || 0,
    nameRotate:o.pos === 'left' ? 90 : -90,
    nameTextStyle:{color:o.nameColor || o.color, fontSize:18, lineHeight:o.nameLH || 21, fontFamily:FONT},
    axisLine:{show:o.line !== false, onZero:false, lineStyle:{color:o.color, width:2}},
    axisTick:{show:true, inside:false, length:o.tickLen || 12, customValues:o.ticks.slice(), lineStyle:{color:o.color, width:2}},
    axisLabel:{show:o.labels !== false, customValues:o.ticks.slice(), color:o.labelColor || o.color, fontSize:17, fontFamily:FONT, margin:o.margin || 17,
      formatter:v => String(v)},
    splitLine:{show:false}
  };
}

const yAxes = [
  yAx({grid:0, pos:'left', min:-0.3, max:11.3, ticks:hchoTicks, color:C.hcho, name:'estimate\nHCHO (ppbv)', nameGap:78, nameLH:19}),
  yAx({grid:0, pos:'right', min:-0.3, max:11.3, ticks:hchoTicks, color:C.hcho, margin:26}),
  yAx({grid:1, pos:'left', min:-1.87, max:26.3, ticks:so2Ticks, color:C.so2, name:'SO2 (ppbv)', nameGap:78}),
  yAx({grid:1, pos:'right', min:0, max:6966, ticks:pmTicks, color:C.pmAxis, name:'PM2.5 (cts)', nameGap:87, margin:20}),
  yAx({grid:2, pos:'left', min:138, max:1061, ticks:coTicks, color:C.co, name:'CO (ppbv)', nameGap:79, margin:15}),
  yAx({grid:2, pos:'right', min:138, max:1061, ticks:coTicks, color:C.co, margin:20}),
  yAx({grid:3, pos:'left', min:-1.5, max:101, ticks:noTicks, color:C.noAxis, name:'NO (ppbv)', nameGap:78}),
  yAx({grid:3, pos:'right', min:-1.5, max:101, ticks:noTicks, color:C.noyAxis, name:'NOy (ppbv)', nameGap:87, margin:25}),
  yAx({grid:4, pos:'left', min:-4.96, max:70.6, ticks:o3Ticks, color:C.o3, name:'O3 (ppbv)', nameGap:82}),
  yAx({grid:4, pos:'right', min:-4.96, max:70.6, ticks:o3Ticks, color:C.o3, margin:25}),
  yAx({grid:4, pos:'left', min:-4.96, max:70.6, ticks:o3MinorTicks, color:C.o3, line:false, labels:false, tickLen:6}),
  yAx({grid:4, pos:'right', min:-4.96, max:70.6, ticks:o3MinorTicks, color:C.o3, line:false, labels:false, tickLen:6})
];

const xAxes = grids.map((g, i) => ({
  type:'value', gridIndex:i, min:0, max:X_MAX, interval:6,
  show:i === 4,
  axisLine:{show:true, onZero:false, lineStyle:{color:'#222', width:2}},
  axisTick:{show:true, length:12, lineStyle:{color:'#222', width:2}},
  axisLabel:{show:true, color:'#000', fontSize:17, fontFamily:FONT, lineHeight:20, margin:20,
    formatter:v => { const k = xTickHours.indexOf(Math.round(v)); return k >= 0 ? xTickLabels[k] : ''; }},
  splitLine:{show:false},
  name:i === 4 ? 'Time and Date (CST)' : '', nameLocation:'middle', nameGap:64,
  nameTextStyle:{color:'#000', fontSize:17, fontFamily:FONT}
}));

function line(name, data, xi, yi, color, width, z) {
  return {name, type:'line', data, xAxisIndex:xi, yAxisIndex:yi, showSymbol:false, symbol:'none',
    connectNulls:false, clip:true, silent:true, z:z || 2,
    lineStyle:{color, width, join:'round'}, itemStyle:{color}};
}

const chart = echarts.init(document.getElementById('c'), null, {renderer:'canvas'});
chart.setOption({
  animation:false,
  backgroundColor:'#ffffff',
  textStyle:{fontFamily:FONT},
  grid:grids,
  xAxis:xAxes,
  yAxis:yAxes,
  graphic:[
    {type:'rect', shape:{x:7, y:4, width:1146, height:732}, style:{fill:'none', stroke:'#000', lineWidth:2}, silent:true},
    {type:'text', x:598, y:27, style:{text:'Texarkana 2025', font:'32px ' + FONT, fill:'#000', align:'center', verticalAlign:'middle'}},
    {type:'text', x:599, y:62, style:{text:'Preliminary MAQL3 Data From 3/1/2025-3/2/2025', font:'27px ' + FONT, fill:'#000', align:'center', verticalAlign:'middle'}},
    {type:'text', x:598, y:89, style:{text:'*Data collected during calibrations and spans have been omitted.', font:'15px ' + FONT, fill:'#000', align:'center', verticalAlign:'middle'}}
  ],
  series:[
    line('HCHO', hcho, 0, 0, C.hcho, 3),
    line('PM2.5', pm25, 1, 3, C.pmLine, 2.5),
    line('SO2', so2, 1, 2, C.so2, 10, 3),
    line('CO', co, 2, 4, C.co, 2),
    line('NOy', noy, 3, 7, C.noyLine, 1.8),
    line('NO', no, 3, 6, C.noLine, 2, 3),
    line('O3', o3, 4, 8, C.o3, 3)
  ]
});
</script>
</body></html>
